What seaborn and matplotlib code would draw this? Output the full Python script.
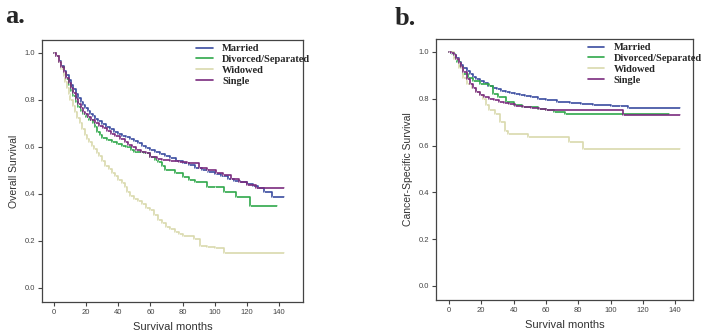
import numpy as np
import pandas as pd
import matplotlib
matplotlib.use("Agg")
import matplotlib.pyplot as plt
import seaborn as sns

groups = ["Married", "Divorced/Separated", "Widowed", "Single"]
colors = ["#3a4ca0", "#2fa84a", "#d9d9ad", "#7a2b7e"]

# ---- Panel a: Overall survival ----
os_married_t = [0, 1.5, 3, 4.5, 6, 7.5, 9, 10.5, 12, 13.5, 15, 16.5, 18, 19.5, 21, 22.5, 24, 25.5, 27.5, 30,
                32.5, 35, 37.5, 40, 42.5, 45, 47.5, 50, 52.5, 55, 57.5, 60, 63, 66, 69, 72, 76, 80, 84, 88,
                92, 96, 100, 104, 108, 112, 116, 120, 124, 127, 131, 136, 143]
os_married_s = [1.0, 0.985, 0.965, 0.945, 0.925, 0.905, 0.885, 0.865, 0.845, 0.825, 0.807, 0.792, 0.778, 0.765,
                0.753, 0.742, 0.731, 0.72, 0.71, 0.698, 0.686, 0.675, 0.665, 0.656, 0.648, 0.641, 0.633, 0.624,
                0.615, 0.605, 0.596, 0.587, 0.578, 0.569, 0.56, 0.552, 0.542, 0.532, 0.522, 0.512, 0.503, 0.494,
                0.485, 0.475, 0.465, 0.457, 0.45, 0.443, 0.435, 0.425, 0.41, 0.385, 0.385]

os_divorced_t = [0, 1.5, 3, 4.5, 6, 7.5, 9, 10.5, 12, 13.5, 15, 16.5, 18, 20, 22, 24, 25.5, 27, 28.5, 30, 33, 36,
                 39, 42, 45, 48, 50, 56, 60, 63, 65, 67, 69, 75, 80, 84, 88, 95, 100, 106, 113, 122, 139]
os_divorced_s = [1.0, 0.985, 0.963, 0.94, 0.915, 0.89, 0.865, 0.84, 0.815, 0.79, 0.768, 0.752, 0.74, 0.727, 0.715,
                 0.70, 0.685, 0.665, 0.65, 0.638, 0.628, 0.62, 0.612, 0.605, 0.598, 0.588, 0.58, 0.575, 0.555,
                 0.545, 0.537, 0.52, 0.50, 0.49, 0.47, 0.46, 0.45, 0.43, 0.43, 0.41, 0.385, 0.35, 0.35]

os_widowed_t = [0, 1.5, 3, 4.5, 6, 7, 8, 9, 10, 11.5, 13, 14.5, 16, 17.5, 19, 20.5, 22, 23.5, 25, 26.5, 28, 30,
                32, 34, 36, 38, 40, 42, 44, 45.5, 47, 50, 52.5, 55, 57.5, 60, 62.5, 65, 67.5, 70, 72.5, 75,
                77.5, 80, 87, 91, 95, 100, 106, 143]
os_widowed_s = [1.0, 0.985, 0.96, 0.93, 0.90, 0.875, 0.85, 0.825, 0.80, 0.775, 0.75, 0.725, 0.70, 0.675, 0.65,
                0.635, 0.62, 0.605, 0.59, 0.575, 0.56, 0.54, 0.52, 0.505, 0.49, 0.475, 0.46, 0.445, 0.43, 0.41,
                0.39, 0.38, 0.368, 0.355, 0.342, 0.33, 0.31, 0.29, 0.275, 0.26, 0.25, 0.24, 0.23, 0.22, 0.21,
                0.18, 0.175, 0.17, 0.148, 0.148]

os_single_t = [0, 1.5, 3, 4.5, 6, 7.5, 9, 10.5, 12, 13.5, 15, 16.5, 18, 19.5, 21, 23, 25.5, 28, 30.5, 33, 35.5,
               38, 41, 44, 46, 48.5, 51, 54, 57, 60, 64, 67, 72, 78, 83, 90, 95, 101, 105, 110, 115, 120, 126, 143]
os_single_s = [1.0, 0.985, 0.963, 0.94, 0.918, 0.895, 0.872, 0.85, 0.828, 0.805, 0.783, 0.765, 0.75, 0.738, 0.727,
               0.715, 0.70, 0.69, 0.68, 0.668, 0.655, 0.645, 0.635, 0.622, 0.61, 0.598, 0.585, 0.58, 0.575, 0.555,
               0.55, 0.545, 0.54, 0.537, 0.53, 0.51, 0.50, 0.49, 0.48, 0.465, 0.45, 0.44, 0.425, 0.425]

# ---- Panel b: Cancer-specific survival ----
css_married_t = [0, 1.5, 3, 4.5, 6, 7.5, 9, 11, 13, 15, 17, 19, 21.5, 24, 27, 29.5, 32, 35, 38, 41, 44, 47, 51,
                 55, 60, 67, 75, 82, 89, 100, 106, 111, 143]
css_married_s = [1.0, 0.995, 0.985, 0.972, 0.958, 0.945, 0.932, 0.92, 0.905, 0.893, 0.884, 0.877, 0.866, 0.856,
                 0.847, 0.84, 0.834, 0.828, 0.823, 0.818, 0.815, 0.811, 0.806, 0.80, 0.795, 0.786, 0.78, 0.776,
                 0.773, 0.77, 0.768, 0.76, 0.76]

css_divorced_t = [0, 2, 4, 5, 7, 9, 12, 15, 19, 25, 27.5, 30.5, 35, 40, 45, 55, 60, 65, 72, 136]
css_divorced_s = [1.0, 0.99, 0.97, 0.955, 0.935, 0.905, 0.89, 0.875, 0.863, 0.856, 0.82, 0.807, 0.785, 0.775,
                  0.765, 0.755, 0.75, 0.745, 0.735, 0.735]

css_widowed_t = [0, 3, 6, 9, 11, 14, 17, 19, 21, 23, 25, 28.5, 31.6, 34.7, 36.6, 49, 74, 83, 143]
css_widowed_s = [1.0, 0.97, 0.93, 0.89, 0.863, 0.845, 0.83, 0.815, 0.80, 0.775, 0.75, 0.735, 0.70, 0.664, 0.648,
                 0.637, 0.615, 0.585, 0.585]

css_single_t = [0, 1.5, 3, 4.5, 6, 7.5, 9, 11, 13, 15, 17, 19, 21.5, 25, 28, 31, 34, 37, 41, 46, 51, 56, 60, 108, 143]
css_single_s = [1.0, 0.995, 0.985, 0.97, 0.952, 0.935, 0.912, 0.885, 0.862, 0.845, 0.828, 0.816, 0.808, 0.80,
                0.793, 0.787, 0.781, 0.776, 0.77, 0.764, 0.76, 0.756, 0.75, 0.73, 0.73]

x_ticks = [0, 20, 40, 60, 80, 100, 120, 140]
y_ticks = [0.0, 0.2, 0.4, 0.6, 0.8, 1.0]


def frame(series):
    rows = []
    for g, (t, s) in zip(groups, series):
        rows.append(pd.DataFrame({"t": t, "s": s, "group": g}))
    return pd.concat(rows, ignore_index=True)


df_os = frame([(os_married_t, os_married_s), (os_divorced_t, os_divorced_s),
               (os_widowed_t, os_widowed_s), (os_single_t, os_single_s)])
df_css = frame([(css_married_t, css_married_s), (css_divorced_t, css_divorced_s),
                (css_widowed_t, css_widowed_s), (css_single_t, css_single_s)])

sns.set_theme(style="white")
plt.rcParams["font.family"] = ["Liberation Sans", "DejaVu Sans"]

fig = plt.figure(figsize=(7.03, 3.33), dpi=100)
ax_a = fig.add_axes([42 / 703, 1 - 302 / 333, 261 / 703, 262 / 333])
ax_b = fig.add_axes([436 / 703, 1 - 300 / 333, 257 / 703, 261 / 333])

palette = dict(zip(groups, colors))

for ax, df, ylabel, xlim in [(ax_a, df_os, "Overall Survival", (-7.5, 155)),
                             (ax_b, df_css, "Cancer-Specific Survival", (-8, 151))]:
    sns.lineplot(data=df, x="t", y="s", hue="group", hue_order=groups, palette=palette,
                 estimator=None, sort=False, drawstyle="steps-post", linewidth=1.2,
                 marker="|", markersize=2.0, markeredgewidth=0.5, ax=ax)
    ax.set_xlim(*xlim)
    ax.set_ylim(-0.06, 1.055)
    ax.set_xticks(x_ticks)
    ax.set_yticks(y_ticks)
    ax.set_yticklabels([f"{v:.1f}" for v in y_ticks])
    ax.tick_params(axis="both", which="both", direction="out", length=3, width=0.8,
                   labelsize=5.5, colors="#444444", left=True, bottom=True, pad=2)
    ax.set_xlabel("Survival months", fontsize=8, color="#333333", labelpad=4)
    ax.set_ylabel(ylabel, fontsize=7.5, color="#333333", labelpad=4)
    for sp in ax.spines.values():
        sp.set_color("#444444")
        sp.set_linewidth(0.9)
    handles, labels = ax.get_legend_handles_labels()
    leg = ax.legend(handles, labels, loc="upper left", bbox_to_anchor=(0.59, 0.985),
                    frameon=False, borderaxespad=0, borderpad=0, handlelength=1.6,
                    handletextpad=0.9, labelspacing=0.15,
                    prop={"family": ["Liberation Serif", "DejaVu Serif"], "weight": "bold", "size": 7.5})
    for h in leg.legend_handles:
        h.set_marker("")
        h.set_linewidth(1.2)

fig.text(5 / 703, 1 - 23 / 333, "a.", fontsize=19, fontweight="bold",
         family=["Liberation Serif", "DejaVu Serif"], va="baseline")
fig.text(395 / 703, 1 - 25 / 333, "b.", fontsize=19, fontweight="bold",
         family=["Liberation Serif", "DejaVu Serif"], va="baseline")

fig.savefig("out.png", dpi=100)
